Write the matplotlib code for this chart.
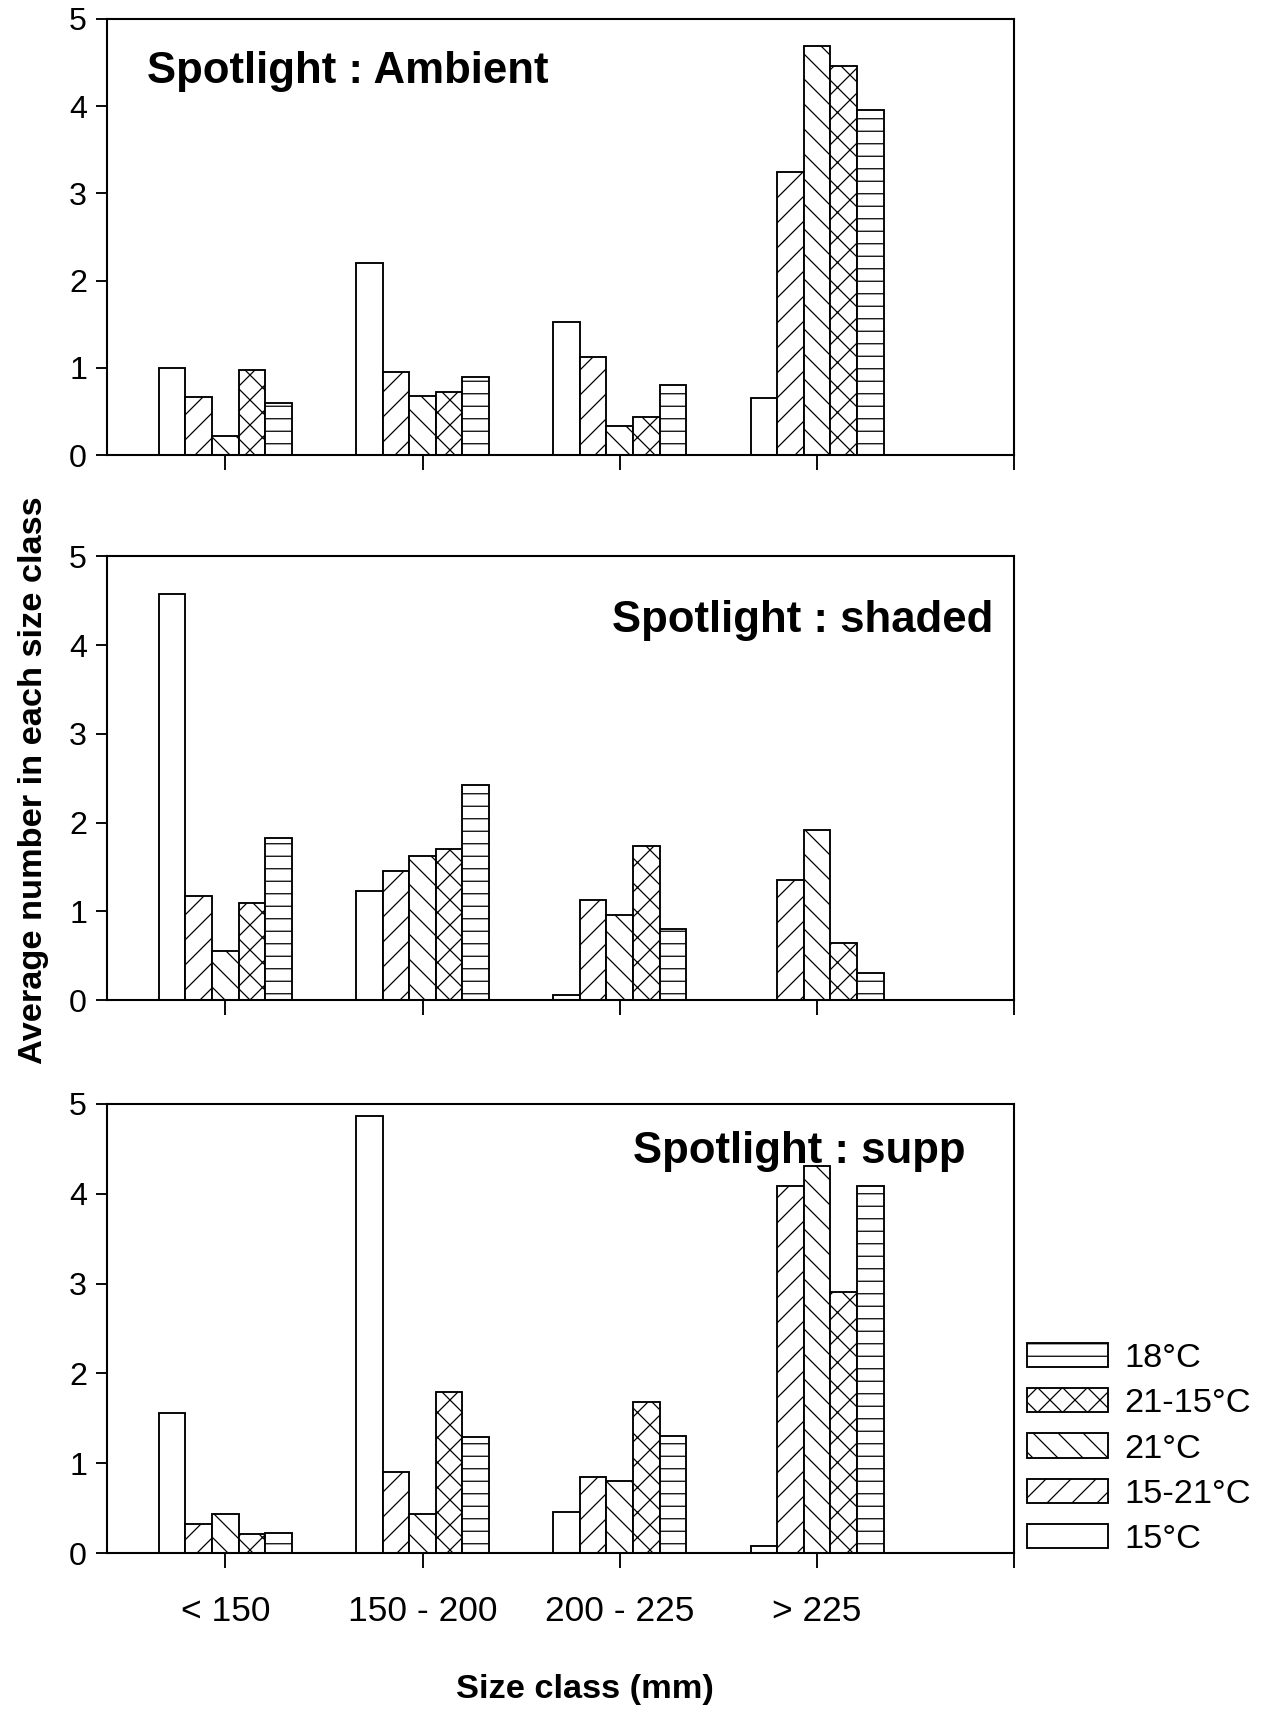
import numpy as np
import matplotlib
matplotlib.use("Agg")
import matplotlib.pyplot as plt

plt.rcParams['font.family'] = ['Liberation Sans', 'DejaVu Sans']
plt.rcParams['hatch.linewidth'] = 0.6

# size classes on the x axis
size_classes = ['< 150', '150 - 200', '200 - 225', '> 225']
treatments = ['15°C', '15-21°C', '21°C', '21-15°C', '18°C']
hatches = ['', '//', '\\\\', 'xx', '--']

# Spotlight : Ambient
ambient_15 = [1.0, 2.2, 1.52, 0.65]
ambient_15_21 = [0.67, 0.95, 1.13, 3.25]
ambient_21 = [0.22, 0.68, 0.33, 4.69]
ambient_21_15 = [0.97, 0.72, 0.44, 4.46]
ambient_18 = [0.6, 0.9, 0.8, 3.96]

# Spotlight : shaded
shaded_15 = [4.57, 1.23, 0.06, 0.0]
shaded_15_21 = [1.17, 1.45, 1.13, 1.35]
shaded_21 = [0.55, 1.63, 0.96, 1.92]
shaded_21_15 = [1.1, 1.7, 1.74, 0.64]
shaded_18 = [1.83, 2.42, 0.8, 0.31]

# Spotlight : supp
supp_15 = [1.56, 4.86, 0.46, 0.08]
supp_15_21 = [0.33, 0.9, 0.85, 4.09]
supp_21 = [0.44, 0.44, 0.8, 4.31]
supp_21_15 = [0.21, 1.79, 1.68, 2.91]
supp_18 = [0.22, 1.29, 1.3, 4.09]

panels = [
    ('Spotlight : Ambient', [ambient_15, ambient_15_21, ambient_21, ambient_21_15, ambient_18]),
    ('Spotlight : shaded', [shaded_15, shaded_15_21, shaded_21, shaded_21_15, shaded_18]),
    ('Spotlight : supp', [supp_15, supp_15_21, supp_21, supp_21_15, supp_18]),
]

fig = plt.figure(figsize=(12.74 / 1.5, 17.11 / 1.5), dpi=150)
boxes = [[0.0839, 0.734, 0.7123, 0.255],
         [0.0839, 0.4154, 0.7123, 0.2595],
         [0.0839, 0.0922, 0.7123, 0.2627]]
# title placement (axes fraction, alignment)
title_pos = [(0.044, 0.852, 'left'), (0.977, 0.829, 'right'), (0.58, 0.869, 'left')]

x = np.arange(len(size_classes))
w = 0.135
axes = []
for k, (title, series) in enumerate(panels):
    ax = fig.add_axes(boxes[k])
    for j, vals in enumerate(series):
        ax.bar(x + (j - 2) * w, vals, w, color='white', edgecolor='black',
               hatch=hatches[j], linewidth=0.9, label=treatments[j])
    ax.set_xlim(-0.6, 4.0)
    ax.set_ylim(0, 5)
    ax.set_yticks(range(6))
    ax.set_xticks(x)
    ax.set_xticks([4.0], minor=True)
    ax.tick_params(axis='y', direction='out', length=5.5, width=0.9, labelsize=15.5, pad=4)
    ax.tick_params(axis='x', which='both', direction='out', length=7, width=0.9, pad=13, labelsize=17)
    if k < 2:
        ax.set_xticklabels([])
    else:
        ax.set_xticklabels(size_classes)
    for s in ax.spines.values():
        s.set_linewidth(1.0)
    tx, ty, ha = title_pos[k]
    ax.text(tx, ty, title, transform=ax.transAxes, ha=ha, va='baseline',
            fontsize=21, fontweight='bold')
    axes.append(ax)

handles, labels = axes[2].get_legend_handles_labels()
fig.legend(handles[::-1], labels[::-1], loc='upper left', bbox_to_anchor=(0.8065, 0.2150),
           frameon=False, fontsize=16.5, handlelength=2.33, handleheight=0.7,
           handletextpad=0.48, labelspacing=0.41, borderpad=0, borderaxespad=0)

fig.text(0.026, 0.544, 'Average number in each size class', rotation=90,
         ha='center', va='center', fontsize=16.5, fontweight='bold')
fig.text(0.459, 0.0123, 'Size class (mm)', ha='center', va='center',
         fontsize=16.5, fontweight='bold')

fig.savefig('out.png', dpi=150)
